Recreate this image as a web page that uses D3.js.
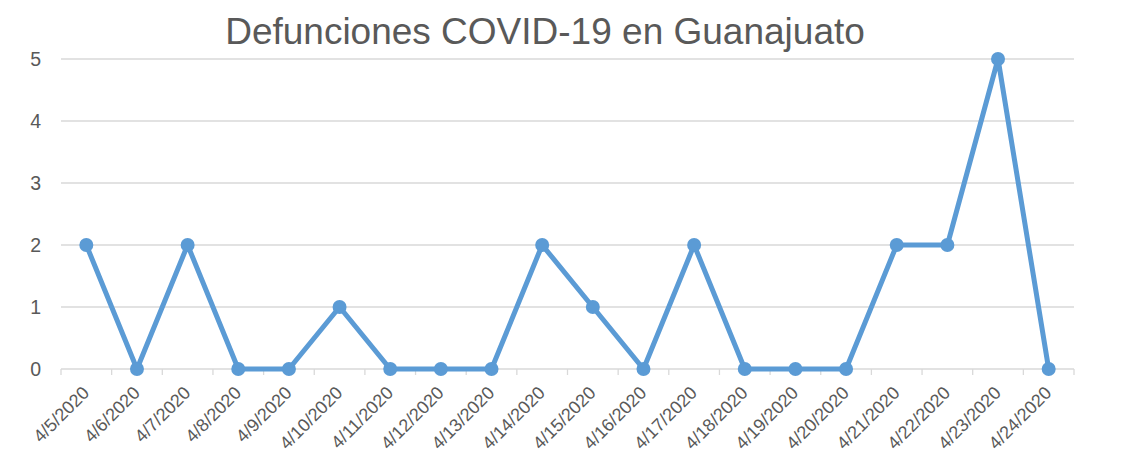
<!DOCTYPE html>
<html>
<head>
<meta charset="utf-8">
<script src="https://cdn.jsdelivr.net/npm/d3@7"></script>
<style>
  body { margin: 0; background: #fff; }
  text { font-family: "Liberation Sans", Arial, sans-serif; fill: #595959; }
</style>
</head>
<body>
<script>
// data
let fechas = ["4/5/2020", "4/6/2020", "4/7/2020", "4/8/2020", "4/9/2020", "4/10/2020",
  "4/11/2020", "4/12/2020", "4/13/2020", "4/14/2020", "4/15/2020", "4/16/2020",
  "4/17/2020", "4/18/2020", "4/19/2020", "4/20/2020", "4/21/2020", "4/22/2020",
  "4/23/2020", "4/24/2020"];
let defunciones = [2, 0, 2, 0, 0, 1, 0, 0, 0, 2, 1, 0, 2, 0, 0, 0, 2, 2, 5, 0];
let yTicks = [0, 1, 2, 3, 4, 5];
let titulo = "Defunciones COVID-19 en Guanajuato";

let width = 1122;
let height = 462;
let margin = { top: 59, right: 48, bottom: 93, left: 61 };

let svg = d3.select("body")
  .append("svg")
  .attr("width", width)
  .attr("height", height);

let x = d3.scaleBand()
  .domain(fechas)
  .range([margin.left, width - margin.right]);

let y = d3.scaleLinear()
  .domain([0, 5])
  .range([height - margin.bottom, margin.top]);

// gridlines
svg.append("g")
  .selectAll("line")
  .data(yTicks.filter((d) => d > 0))
  .join("line")
  .attr("x1", margin.left)
  .attr("x2", width - margin.right)
  .attr("y1", (d) => y(d))
  .attr("y2", (d) => y(d))
  .attr("stroke", "#d9d9d9")
  .attr("stroke-width", 1.3);

// y labels
svg.append("g")
  .selectAll("text")
  .data(yTicks)
  .join("text")
  .attr("x", 41)
  .attr("y", (d) => y(d))
  .attr("dy", "0.35em")
  .attr("text-anchor", "end")
  .attr("font-size", 19.5)
  .text((d) => d);

// x axis with ticks between categories
let xAxis = svg.append("g")
  .attr("transform", `translate(0,${y(0)})`);

xAxis.append("line")
  .attr("x1", margin.left)
  .attr("x2", width - margin.right)
  .attr("stroke", "#d9d9d9")
  .attr("stroke-width", 1.3);

xAxis.selectAll(".tick")
  .data(fechas.concat(["end"]))
  .join("line")
  .attr("x1", (d, i) => margin.left + i * x.step())
  .attr("x2", (d, i) => margin.left + i * x.step())
  .attr("y1", 0)
  .attr("y2", 6)
  .attr("stroke", "#d9d9d9")
  .attr("stroke-width", 1.3);

xAxis.selectAll("text")
  .data(fechas)
  .join("text")
  .attr("text-anchor", "end")
  .attr("font-size", 18)
  .attr("transform", (d) =>
    `translate(${x(d) + x.bandwidth() / 2 + 4},${25}) rotate(-45)`)
  .text((d) => d);

// line + markers
let line = d3.line()
  .x((d, i) => x(fechas[i]) + x.bandwidth() / 2)
  .y((d) => y(d));

svg.append("path")
  .datum(defunciones)
  .attr("d", line)
  .attr("fill", "none")
  .attr("stroke", "#5b9bd5")
  .attr("stroke-width", 5)
  .attr("stroke-linejoin", "round");

svg.append("g")
  .selectAll("circle")
  .data(defunciones)
  .join("circle")
  .attr("cx", (d, i) => x(fechas[i]) + x.bandwidth() / 2)
  .attr("cy", (d) => y(d))
  .attr("r", 7)
  .attr("fill", "#5b9bd5");

// title
svg.append("text")
  .attr("x", 545)
  .attr("y", 44)
  .attr("text-anchor", "middle")
  .attr("font-size", 37)
  .text(titulo);
</script>
</body>
</html>
